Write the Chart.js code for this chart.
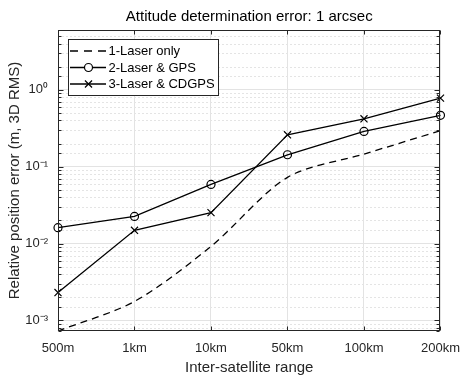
<!DOCTYPE html>
<html><head><meta charset="utf-8">
<script src="https://cdn.jsdelivr.net/npm/chart.js@4.4.0/dist/chart.umd.min.js"></script>
<style>html,body{margin:0;padding:0;background:#fff}#wrap{width:470px;height:383px}</style>
</head><body><div id="wrap"><canvas id="c" width="470" height="383"></canvas></div>
<script>
const categories = ['500m', '1km', '10km', '50km', '100km', '200km'];
const laserOnly = [0.00073, 0.00177, 0.0092, 0.0727, 0.146, 0.294];
const laserGPS = [0.0161, 0.0226, 0.0589, 0.143, 0.288, 0.466];
const laserCDGPS = [0.00231, 0.0149, 0.0253, 0.26, 0.42, 0.78];
const seriesNames = ['1-Laser only', '2-Laser & GPS', '3-Laser & CDGPS'];
const chartTitle = 'Attitude determination error: 1 arcsec';
const yMin = 0.00073, yMax = 6;

const FONT = '"Liberation Sans", Arial, Helvetica, sans-serif';
const SUP = {'-':'\u207B','0':'\u2070','1':'\u00B9','2':'\u00B2','3':'\u00B3','4':'\u2074','5':'\u2075','6':'\u2076','7':'\u2077','8':'\u2078','9':'\u2079'};
function isDecade(v){ const l = Math.log10(v); return Math.abs(l - Math.round(l)) < 1e-9; }
function decadeLabel(v){ const e = String(Math.round(Math.log10(v))); return '10' + e.split('').map(c => SUP[c]).join(''); }

const matlabAxes = {
  id: 'matlabAxes',
  beforeDatasetsDraw(chart){
    const {ctx, chartArea: a, scales: {y}} = chart;
    ctx.save();
    ctx.strokeStyle = '#e4e4e4'; ctx.lineWidth = 1; ctx.setLineDash([2, 2]);
    y.ticks.forEach(t => {
      if (isDecade(t.value) || t.value <= y.min || t.value >= y.max) return;
      const py = Math.round(y.getPixelForValue(t.value)) + 0.5;
      ctx.beginPath(); ctx.moveTo(a.left, py); ctx.lineTo(a.right, py); ctx.stroke();
    });
    ctx.restore();
  },
  afterDatasetsDraw(chart){
    const {ctx, chartArea: a, scales: {x, y}} = chart;
    ctx.save();
    ctx.strokeStyle = '#262626'; ctx.lineWidth = 1; ctx.setLineDash([]);
    const L = Math.round(a.left) + 0.5, R = Math.round(a.right) - 0.5, T = Math.round(a.top) + 0.5, B = Math.round(a.bottom) - 0.5;
    ctx.strokeRect(L, T, R - L, B - T);
    ctx.beginPath();
    x.ticks.forEach((t, i) => {
      const px = Math.round(x.getPixelForTick(i)) + 0.5;
      ctx.moveTo(px, B); ctx.lineTo(px, B - 4);
      ctx.moveTo(px, T); ctx.lineTo(px, T + 4);
    });
    y.ticks.forEach(t => {
      if (t.value < y.min || t.value > y.max) return;
      const py = Math.round(y.getPixelForValue(t.value)) + 0.5;
      const len = isDecade(t.value) ? 5 : 3;
      ctx.moveTo(L, py); ctx.lineTo(L + len, py);
      ctx.moveTo(R, py); ctx.lineTo(R - len, py);
    });
    ctx.stroke();
    ctx.restore();

    // title centred over the plot area
    ctx.save();
    ctx.fillStyle = '#000'; ctx.font = '15px ' + FONT; ctx.textAlign = 'center'; ctx.textBaseline = 'middle';
    ctx.fillText(chartTitle, (a.left + a.right) / 2, 17);
    ctx.restore();

    // legend
    const bx = 68.5, by = 39.5, bw = 150, bh = 56;
    ctx.save();
    ctx.fillStyle = '#fff'; ctx.fillRect(bx, by, bw, bh);
    ctx.strokeStyle = '#262626'; ctx.lineWidth = 1; ctx.strokeRect(bx, by, bw, bh);
    const rows = [51, 67.5, 84];
    chart.data.datasets.forEach((ds, i) => {
      const yy = rows[i];
      ctx.strokeStyle = ds.borderColor; ctx.lineWidth = ds.borderWidth;
      ctx.setLineDash(ds.borderDash ? [8, 6] : []);
      ctx.beginPath(); ctx.moveTo(bx + 1.5, yy); ctx.lineTo(bx + 37.5, yy); ctx.stroke();
      ctx.setLineDash([]);
      if (ds.pointRadius > 0) {
        ctx.fillStyle = '#fff';
        ctx.strokeStyle = ds.pointBorderColor; ctx.lineWidth = ds.pointBorderWidth;
        Chart.helpers.drawPoint(ctx, {pointStyle: ds.pointStyle, radius: ds.pointRadius, borderWidth: ds.pointBorderWidth, rotation: 0}, bx + 20, yy);
      }
      ctx.fillStyle = '#000'; ctx.font = '13px ' + FONT; ctx.textBaseline = 'middle'; ctx.textAlign = 'left';
      ctx.fillText(ds.label, bx + 40, yy + 0.5);
    });
    ctx.restore();
  }
};

new Chart(document.getElementById('c'), {
  type: 'line',
  data: {
    labels: categories,
    datasets: [
      {label: seriesNames[0], data: laserOnly, borderColor: '#000', borderWidth: 1.3, borderDash: [7, 5], pointRadius: 0, tension: 0.3, fill: false},
      {label: seriesNames[1], data: laserGPS, borderColor: '#000', borderWidth: 1.3, pointStyle: 'circle', pointRadius: 4, pointBackgroundColor: 'rgba(0,0,0,0)', pointBorderColor: '#000', pointBorderWidth: 1.2, tension: 0, fill: false},
      {label: seriesNames[2], data: laserCDGPS, borderColor: '#000', borderWidth: 1.3, pointStyle: 'crossRot', pointRadius: 5, pointBorderColor: '#000', pointBorderWidth: 1.2, tension: 0, fill: false}
    ]
  },
  options: {
    responsive: false, animation: false, devicePixelRatio: 1,
    layout: {padding: {left: 0, right: 25, top: 30, bottom: 0}},
    plugins: {
      legend: {display: false}, tooltip: {enabled: false}, title: {display: false}
    },
    scales: {
      x: {
        type: 'category', offset: false,
        grid: {color: '#e3e3e3', drawTicks: false},
        border: {display: false},
        ticks: {color: '#262626', font: {family: FONT, size: 13}, padding: 10, maxRotation: 0},
        title: {display: true, text: 'Inter-satellite range', color: '#262626', font: {family: FONT, size: 15}, padding: {top: 0, bottom: 6}},
        afterFit: s => { s.height = 52; }
      },
      y: {
        type: 'logarithmic', min: yMin, max: yMax,
        grid: {color: c => (c.tick && isDecade(c.tick.value)) ? '#e3e3e3' : 'rgba(0,0,0,0)', drawTicks: false},
        border: {display: false},
        ticks: {color: '#262626', font: {family: FONT, size: 13}, padding: 10, autoSkip: false, callback: v => isDecade(v) ? decadeLabel(v) : ''},
        title: {display: true, text: 'Relative position error (m, 3D RMS)', color: '#262626', font: {family: FONT, size: 15}, padding: {top: 6, bottom: 0}},
        afterFit: s => { s.width = 58; }
      }
    }
  },
  plugins: [matlabAxes]
});
</script></body></html>
